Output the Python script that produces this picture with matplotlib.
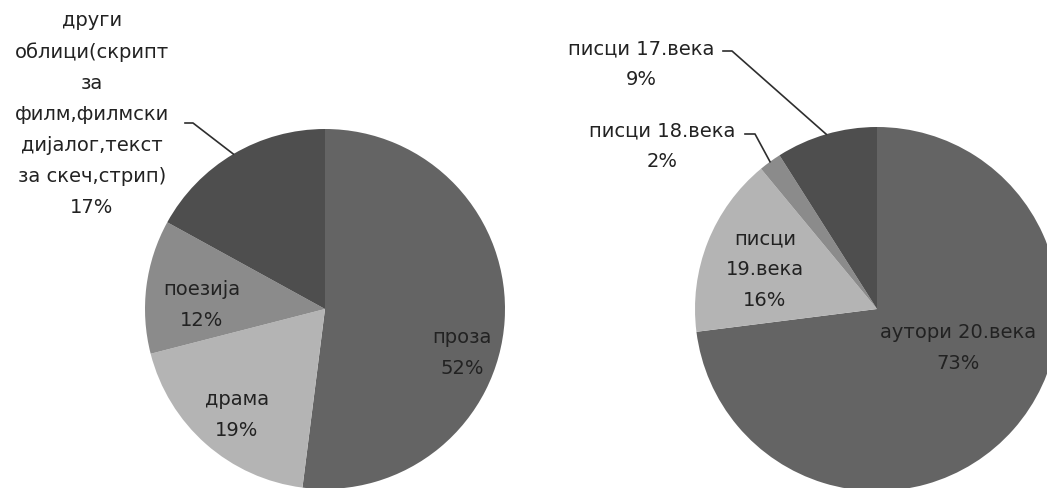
import numpy as np
import matplotlib
matplotlib.use('Agg')
import matplotlib.pyplot as plt

plt.rcParams['font.family'] = ['DejaVu Sans']

# жанрови
genre_names = ['проза', 'драма', 'поезија',
               'други\nоблици(скрипт\nза\nфилм,филмски\nдијалог,текст\nза скеч,стрип)']
genre_values = [52, 19, 12, 17]

# аутори по вековима
era_names = ['аутори 20.века', 'писци\n19.века', 'писци 18.века', 'писци 17.века']
era_values = [73, 16, 2, 9]

colors = ['#646464', '#b4b4b4', '#8b8b8b', '#4e4e4e']

W, H = 1047, 489

fig = plt.figure(figsize=(W / 100, H / 100), dpi=100)
ax = fig.add_axes([0, 0, 1, 1])


def draw_pie(values, names, center, radius, label_pos, leaders):
    """label_pos - положај натписа у пикселима (x, y од врха)
    leaders - линије од натписа ка исечку: (x почетка, y, x прелома)"""
    cx, cy = center[0], H - center[1]
    wedges, _ = ax.pie(values, colors=colors, startangle=90, counterclock=False,
                       center=(cx, cy), radius=radius, frame=True,
                       wedgeprops=dict(linewidth=0))
    for i, (w, name, v) in enumerate(zip(wedges, names, values)):
        lx, ly = label_pos[i]
        ax.text(lx, H - ly, '%s\n%d%%' % (name, v), ha='center', va='center',
                fontsize=14, color='#222222', linespacing=1.8)
        if i in leaders:
            sx, sy, tx = leaders[i]
            mid = np.deg2rad((w.theta1 + w.theta2) / 2)
            ex = cx + radius * np.cos(mid)
            ey = cy + radius * np.sin(mid)
            ax.plot([sx, tx, ex], [H - sy, H - sy, ey], color='#2e2e2e', lw=1.2)


draw_pie(genre_values, genre_names, (325, 310), 180,
         [(462, 353), (237, 415), (202, 305), (92, 114)],
         {3: (185, 124, 193)})

draw_pie(era_values, era_names, (877, 310), 182,
         [(958, 348), (765, 270), (662, 146), (641, 64)],
         {2: (745, 135, 755), 3: (723, 52, 732)})

ax.set_xlim(0, W)
ax.set_ylim(0, H)
ax.set_aspect('equal')
ax.axis('off')

fig.savefig('out.png', dpi=100, facecolor='white')
